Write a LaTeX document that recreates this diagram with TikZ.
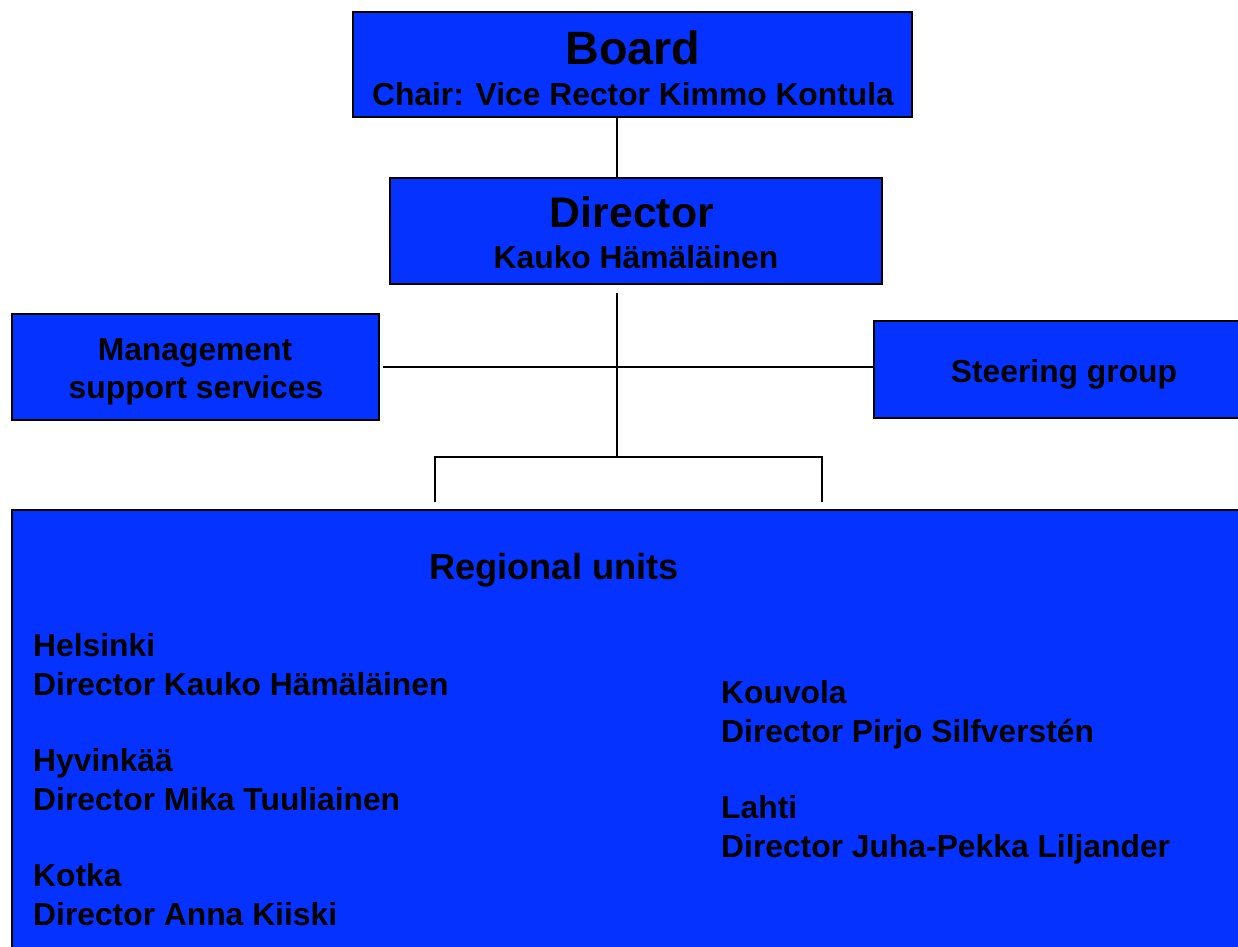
\documentclass[tikz,border=0pt]{standalone}
\usepackage{fontspec}
\setmainfont{Liberation Sans}
\usetikzlibrary{calc}
\definecolor{boxblue}{RGB}{5,50,255}
\tikzset{
  box/.style={draw=black, line width=2pt, fill=boxblue, inner sep=0pt},
  conn/.style={draw=black, line width=2pt},
  txt/.style={inner sep=0pt, font=\bfseries\fontsize{31.8}{39}\selectfont, text=black},
  big/.style={inner sep=0pt, font=\bfseries\fontsize{46.7}{50}\selectfont, text=black},
  mid/.style={inner sep=0pt, font=\bfseries\fontsize{42.8}{46}\selectfont, text=black},
  head/.style={inner sep=0pt, font=\bfseries\fontsize{36.2}{40}\selectfont, text=black},
}
\begin{document}
\begin{tikzpicture}[x=1pt,y=-1pt]
\useasboundingbox (0,0) rectangle (1238,946);
\clip (0,0) rectangle (1238,946);
% boxes
\node[box, minimum width=559pt, minimum height=105pt] (board) at (632.5,64.5) {};
\node[box, minimum width=492pt, minimum height=106pt] (director) at (636,231) {};
\node[box, minimum width=367pt, minimum height=106pt] (mgmt) at (195.5,367) {};
\node[box, minimum width=380pt, minimum height=97pt] (steer) at (1064,369.5) {};
\node[box, minimum width=1240pt, minimum height=460pt] (regional) at (632,740) {};
% connector coordinates
\coordinate (dtop) at (617,293);
\coordinate (hub) at (617,367);
\coordinate (hubL) at (383,367);
\coordinate (bar) at (617,457);
\coordinate (barL) at (435,457);
\coordinate (barR) at (822,457);
\coordinate (endL) at (435,502);
\coordinate (endR) at (822,502);
% connectors
\draw[conn] (board.south -| dtop) -- (director.north -| dtop);
\draw[conn] (dtop) -- (bar);
\draw[conn] (hubL) -- (hub -| steer.west);
\draw[conn] (endL) -- (barL) -- (barR) -- (endR);
% texts
\node[big, anchor=base] (tboard) at (633,64) {Board};
\node[txt, anchor=base] (tchair) at (633,105) {Chair: Vice Rector Kimmo Kontula};
\node[mid, anchor=base] (tdir) at (632,227) {Director};
\node[txt, anchor=base] (tkauko) at (636,268) {Kauko Hämäläinen};
\node[txt, anchor=base] (tm1) at (195,360) {Management};
\node[txt, anchor=base] (tm2) at (196,398) {support services};
\node[txt, anchor=base] (tsteer) at (1064,382) {Steering group};
\node[head, anchor=base] (treg) at (554,579) {Regional units};
\node[txt, anchor=base west] (h1) at (33,656) {Helsinki};
\node[txt, anchor=base west] (h2) at (33,695) {Director Kauko Hämäläinen};
\node[txt, anchor=base west] (y1) at (33,771) {Hyvinkää};
\node[txt, anchor=base west] (y2) at (33,810) {Director Mika Tuuliainen};
\node[txt, anchor=base west] (k1) at (33,886) {Kotka};
\node[txt, anchor=base west] (k2) at (33,925) {Director Anna Kiiski};
\node[txt, anchor=base west] (v1) at (721,703) {Kouvola};
\node[txt, anchor=base west] (v2) at (721,742) {Director Pirjo Silfverstén};
\node[txt, anchor=base west] (l1) at (721,818) {Lahti};
\node[txt, anchor=base west] (l2) at (721,857) {Director Juha-Pekka Liljander};
\end{tikzpicture}
\end{document}
